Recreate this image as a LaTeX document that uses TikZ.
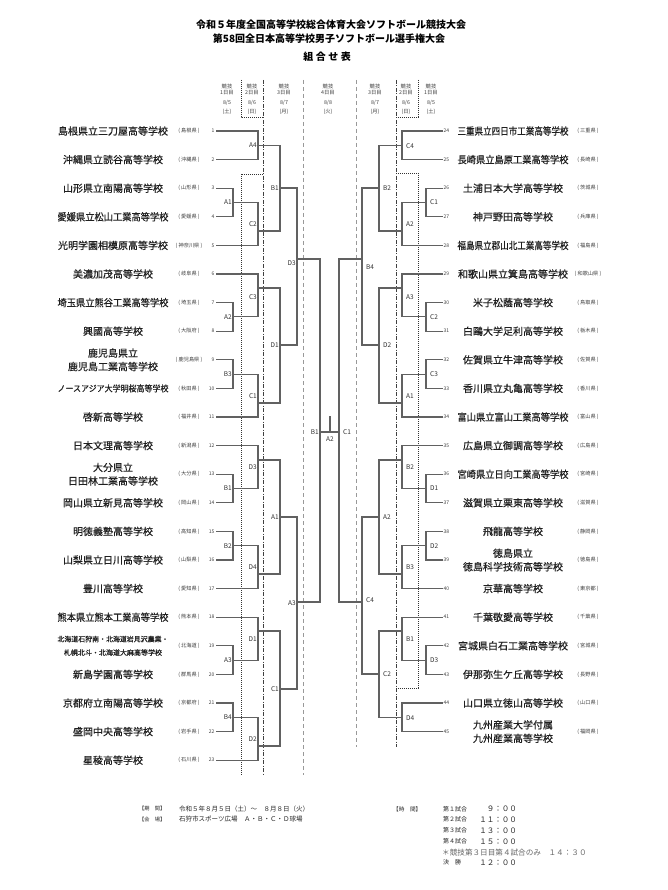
\documentclass[tikz,border=0pt]{standalone}
\usepackage{fontspec}
\setmainfont{Noto Sans CJK JP}
\newfontfamily\tmfont[FakeBold=0.5]{Noto Sans CJK JP}
\usepackage{graphicx}
\newsavebox\fitbox
\newcommand\fitto[2]{\sbox\fitbox{#2}\ifdim\wd\fitbox>#1\relax\resizebox{#1}{\height}{\usebox\fitbox}\else\usebox\fitbox\fi}
\newcommand\F[1]{\fitto{111pt}{#1}}
\tikzset{
 br/.style={draw=black!62,line width=1.1pt,line cap=rect},
 tm/.style={inner sep=0pt,font=\tmfont\fontsize{10}{13.5}\selectfont,text=black!88,align=center},
 pf/.style={inner sep=0pt,font=\fontsize{5.2}{6}\selectfont,text=black!75},
 num/.style={inner sep=0pt,font=\fontsize{5}{6}\selectfont,text=black!75},
 lab/.style={inner sep=0pt,font=\fontsize{6.5}{7}\selectfont,text=black!80},
 hd/.style={inner sep=0pt,font=\fontsize{5.3}{6}\selectfont,text=black!75},
 info/.style={inner sep=0pt,font=\fontsize{6.5}{8}\selectfont,text=black!85,anchor=west},
 dotln/.style={draw=black!80,line width=0.8pt,dash pattern=on 1pt off 1pt},
 dashdotln/.style={draw=black!75,line width=0.8pt,dash pattern=on 4pt off 1.5pt on 1pt off 1.5pt},
 dashln/.style={draw=black!40,line width=0.8pt,dash pattern=on 4pt off 3pt},
}
% left team: num, y, name, pref, xend
\newcommand\Lteam[5]{%
 \node[tm] (ln#1) at (113,#2) {#3};
 \node[pf] (lp#1) at (189,#2) {\fitto{30pt}{( #4 )}};
 \node[num,anchor=east] (lnum#1) at (214.5,#2) {#1};
 \draw[br] ([xshift=2pt]lnum#1.east) -- (#5,#2);
}
\newcommand\Rteam[5]{%
 \node[tm] (rn#1) at (513,#2) {#3};
 \node[pf] (rp#1) at (588,#2) {\fitto{30pt}{( #4 )}};
 \node[num,anchor=west] (rnum#1) at (443.5,#2) {#1};
 \draw[br] ([xshift=-1.5pt]rnum#1.west) -- (#5,#2);
}
% match: name, x, y1, y2, yout, xnext, label, ylabel
\newcommand\Lm[8]{%
 \draw[br] (#2,#3) -- (#2,#4);
 \draw[br] (#2,#5) -- (#6,#5);
 \node[lab,anchor=east] (#1) at (#2-1,#8) {#7};
}
\newcommand\Rm[8]{%
 \draw[br] (#2,#3) -- (#2,#4);
 \draw[br] (#2,#5) -- (#6,#5);
 \node[lab,anchor=west] (#1) at (#2+4,#8) {#7};
}
\newcommand\hcol[5]{%
 \node[hd] (#1a) at (#2,86) {競技};
 \node[hd] (#1b) at (#2,93) {#3};
 \node[hd] (#1c) at (#2,103) {#4};
 \node[hd] (#1d) at (#2,112) {#5};
}
\begin{document}
\begin{tikzpicture}[x=1pt,y=-1pt]
\fill[white] (0,0) rectangle (668,890);
\useasboundingbox (0,0) rectangle (668,890);
% title
\node[inner sep=0pt,font=\fontsize{10}{12}\selectfont\bfseries] (t1) at (331,25) {令和５年度全国高等学校総合体育大会ソフトボール競技大会};
\node[inner sep=0pt,font=\fontsize{10}{12}\selectfont\bfseries] (t2) at (329,39) {第58回全日本高等学校男子ソフトボール選手権大会};
\node[inner sep=0pt,font=\fontsize{10}{12}\selectfont\bfseries] (t3) at (327,57) {組\hspace{2.5pt}合\hspace{2.5pt}せ\hspace{2.5pt}表};
% header
\hcol{hL1}{227}{1日目}{8/5}{(土)}
\hcol{hL2}{252}{2日目}{8/6}{(日)}
\hcol{hL3}{284}{3日目}{8/7}{(月)}
\hcol{hC}{328}{4日目}{8/8}{(火)}
\hcol{hR3}{375}{3日目}{8/7}{(月)}
\hcol{hR2}{406}{2日目}{8/6}{(日)}
\hcol{hR1}{431}{1日目}{8/5}{(土)}
% day separators
\draw[dotln] (241,80) -- (241,117) -- (263,117);
\draw[dotln] (263,174) -- (241,174) -- (241,775);
\draw[dashdotln] (263,80) -- (263,775);
\draw[dashln] (303,80) -- (303,775);
\draw[dashln] (356,80) -- (356,747);
\draw[dashdotln] (396,80) -- (396,747);
\draw[dotln] (418,80) -- (418,117) -- (396,117);
\draw[dotln] (396,173) -- (418,173) -- (418,688) -- (396,688);
% left teams
\Lteam{1}{131.0}{\F{島根県立三刀屋高等学校}}{島根県}{258}
\Lteam{2}{159.6}{\F{沖縄県立読谷高等学校}}{沖縄県}{258}
\Lteam{3}{188.2}{\F{山形県立南陽高等学校}}{山形県}{233}
\Lteam{4}{216.8}{\F{愛媛県立松山工業高等学校}}{愛媛県}{233}
\Lteam{5}{245.4}{\F{光明学園相模原高等学校}}{神奈川県}{258}
\Lteam{6}{274.0}{\F{美濃加茂高等学校}}{岐阜県}{258}
\Lteam{7}{302.6}{\F{埼玉県立熊谷工業高等学校}}{埼玉県}{233}
\Lteam{8}{331.2}{\F{興國高等学校}}{大阪府}{233}
\Lteam{9}{359.8}{\F{鹿児島県立}\\\F{鹿児島工業高等学校}}{鹿児島県}{233}
\Lteam{10}{388.4}{\fontsize{8.5}{10}\selectfont\F{ノースアジア大学明桜高等学校}}{秋田県}{233}
\Lteam{11}{417.0}{\F{啓新高等学校}}{福井県}{258}
\Lteam{12}{445.6}{\F{日本文理高等学校}}{新潟県}{258}
\Lteam{13}{474.2}{\F{大分県立}\\\F{日田林工業高等学校}}{大分県}{233}
\Lteam{14}{502.8}{\F{岡山県立新見高等学校}}{岡山県}{233}
\Lteam{15}{531.4}{\F{明徳義塾高等学校}}{高知県}{233}
\Lteam{16}{560.0}{\F{山梨県立日川高等学校}}{山梨県}{233}
\Lteam{17}{588.6}{\F{豊川高等学校}}{愛知県}{258}
\Lteam{18}{617.2}{\F{熊本県立熊本工業高等学校}}{熊本県}{258}
\Lteam{19}{645.8}{\fontsize{7}{8.5}\selectfont\F{北海道石狩南・北海道岩見沢農業・}\\\fontsize{7}{8.5}\selectfont\F{札幌北斗・北海道大麻高等学校}}{北海道}{233}
\Lteam{20}{674.4}{\F{新島学園高等学校}}{群馬県}{233}
\Lteam{21}{703.0}{\F{京都府立南陽高等学校}}{京都府}{233}
\Lteam{22}{731.6}{\F{盛岡中央高等学校}}{岩手県}{233}
\Lteam{23}{760.2}{\F{星稜高等学校}}{石川県}{258}
% right teams
\Rteam{24}{131.0}{\F{三重県立四日市工業高等学校}}{三重県}{402}
\Rteam{25}{159.6}{\F{長崎県立島原工業高等学校}}{長崎県}{402}
\Rteam{26}{188.2}{\F{土浦日本大学高等学校}}{茨城県}{426}
\Rteam{27}{216.8}{\F{神戸野田高等学校}}{兵庫県}{426}
\Rteam{28}{245.4}{\F{福島県立郡山北工業高等学校}}{福島県}{402}
\Rteam{29}{274.0}{\F{和歌山県立箕島高等学校}}{和歌山県}{402}
\Rteam{30}{302.6}{\F{米子松蔭高等学校}}{鳥取県}{426}
\Rteam{31}{331.2}{\F{白鷗大学足利高等学校}}{栃木県}{426}
\Rteam{32}{359.8}{\F{佐賀県立牛津高等学校}}{佐賀県}{426}
\Rteam{33}{388.4}{\F{香川県立丸亀高等学校}}{香川県}{426}
\Rteam{34}{417.0}{\F{富山県立富山工業高等学校}}{富山県}{402}
\Rteam{35}{445.6}{\F{広島県立御調高等学校}}{広島県}{402}
\Rteam{36}{474.2}{\F{宮崎県立日向工業高等学校}}{宮崎県}{426}
\Rteam{37}{502.8}{\F{滋賀県立栗東高等学校}}{滋賀県}{426}
\Rteam{38}{531.4}{\F{飛龍高等学校}}{静岡県}{426}
\Rteam{39}{560.0}{\F{徳島県立}\\\F{徳島科学技術高等学校}}{徳島県}{426}
\Rteam{40}{588.6}{\F{京華高等学校}}{東京都}{402}
\Rteam{41}{617.2}{\F{千葉敬愛高等学校}}{千葉県}{402}
\Rteam{42}{645.8}{\F{宮城県白石工業高等学校}}{宮城県}{426}
\Rteam{43}{674.4}{\F{伊那弥生ケ丘高等学校}}{長野県}{426}
\Rteam{44}{703.0}{\F{山口県立徳山高等学校}}{山口県}{402}
\Rteam{45}{731.6}{\F{九州産業大学付属}\\\F{九州産業高等学校}}{福岡県}{402}
% left bracket
\Lm{lA4}{258}{131.0}{159.6}{145.3}{280}{A4}{145.3}
\Lm{lA1}{233}{188.2}{216.8}{202.5}{258}{A1}{202.5}
\Lm{lC2}{258}{202.5}{245.4}{231}{280}{C2}{224}
\Lm{lB1}{280}{145.3}{231}{188}{297}{B1}{188}
\Lm{lA2}{233}{302.6}{331.2}{316.9}{258}{A2}{316.9}
\Lm{lC3}{258}{274.0}{316.9}{288}{280}{C3}{297}
\Lm{lB3}{233}{359.8}{388.4}{374.1}{258}{B3}{374.1}
\Lm{lC1}{258}{374.1}{417.0}{403}{280}{C1}{396}
\Lm{lD1}{280}{288}{403}{345}{297}{D1}{345}
\Lm{lD3}{297}{188}{345}{259}{320}{D3}{263}
\Lm{lB1b}{233}{474.2}{502.8}{488.5}{258}{B1}{488.5}
\Lm{lD3b}{258}{445.6}{488.5}{460}{280}{D3}{467}
\Lm{lB2}{233}{531.4}{560.0}{545.7}{258}{B2}{545.7}
\Lm{lD4}{258}{545.7}{588.6}{574}{280}{D4}{567}
\Lm{lA1b}{280}{460}{574}{517}{297}{A1}{517}
\Lm{lA3}{233}{645.8}{674.4}{660.1}{258}{A3}{660.1}
\Lm{lD1b}{258}{617.2}{660.1}{631}{280}{D1}{639}
\Lm{lB4}{233}{703.0}{731.6}{717.3}{258}{B4}{717.3}
\Lm{lD2}{258}{717.3}{760.2}{746}{280}{D2}{739}
\Lm{lC1b}{280}{631}{746}{689}{297}{C1}{689}
\Lm{lA3b}{297}{517}{689}{602}{320}{A3}{603}
\Lm{lB1c}{320}{259}{602}{432}{339}{B1}{432}
% right bracket
\Rm{rC4}{402}{131.0}{159.6}{145.3}{379}{C4}{146}
\Rm{rC1}{426}{188.2}{216.8}{202.5}{402}{C1}{202.5}
\Rm{rA2}{402}{202.5}{245.4}{231}{379}{A2}{224}
\Rm{rB2}{379}{145.3}{231}{188}{362}{B2}{188}
\Rm{rC2}{426}{302.6}{331.2}{316.9}{402}{C2}{316.9}
\Rm{rA3}{402}{274.0}{316.9}{288}{379}{A3}{297}
\Rm{rC3}{426}{359.8}{388.4}{374.1}{402}{C3}{374.1}
\Rm{rA1}{402}{374.1}{417.0}{403}{379}{A1}{396}
\Rm{rD2}{379}{288}{403}{345}{362}{D2}{345}
\Rm{rB4}{362}{188}{345}{259}{339}{B4}{267}
\Rm{rD1}{426}{474.2}{502.8}{488.5}{402}{D1}{488.5}
\Rm{rB2b}{402}{445.6}{488.5}{460}{379}{B2}{467}
\Rm{rD2b}{426}{531.4}{560.0}{545.7}{402}{D2}{545.7}
\Rm{rB3}{402}{545.7}{588.6}{574}{379}{B3}{567}
\Rm{rA2b}{379}{460}{574}{517}{362}{A2}{517}
\Rm{rD3}{426}{645.8}{674.4}{660.1}{402}{D3}{660.1}
\Rm{rB1}{402}{617.2}{660.1}{631}{379}{B1}{639}
\Rm{rD4}{402}{703.0}{731.6}{717.3}{379}{D4}{718}
\Rm{rC2b}{379}{631}{717.3}{674}{362}{C2}{674}
\Rm{rC4b}{362}{517}{674}{602}{339}{C4}{600}
\Rm{rC1c}{339}{259}{602}{432}{339}{C1}{432}
% final
\coordinate (fin) at (330,432);
\coordinate (fintop) at (330,417);
\draw[br] (fin) -- (fintop);
\node[lab] (fA2) at (330,439.5) {A2};
% bottom info
\node[info,font=\fontsize{5.2}{6}\selectfont] (i1) at (139,809) {【期　間】};
\node[info] (i2) at (179,809) {令和５年８月５日（土）～　８月８日（火）};
\node[info,font=\fontsize{5.2}{6}\selectfont] (i3) at (139,819.5) {【会　場】};
\node[info] (i4) at (179,819.5) {石狩市スポーツ広場　Ａ・Ｂ・Ｃ・Ｄ球場};
\node[info,font=\fontsize{5.6}{6}\selectfont] (i5) at (393,809) {【時　間】};
\node[info,font=\fontsize{6}{7}\selectfont] (g1) at (443,809) {第１試合};
\node[info,font=\fontsize{6}{7}\selectfont] (g2) at (443,819.5) {第２試合};
\node[info,font=\fontsize{6}{7}\selectfont] (g3) at (443,830.5) {第３試合};
\node[info,font=\fontsize{6}{7}\selectfont] (g4) at (443,841.5) {第４試合};
\node[info,font=\fontsize{6}{7}\selectfont] (g6) at (443,862.5) {決　勝};
\node[info,anchor=east,font=\fontsize{7.5}{8}\selectfont] (tm1) at (517,809) {９：００};
\node[info,anchor=east,font=\fontsize{7.5}{8}\selectfont] (tm2) at (517,819.5) {１１：００};
\node[info,anchor=east,font=\fontsize{7.5}{8}\selectfont] (tm3) at (517,830.5) {１３：００};
\node[info,anchor=east,font=\fontsize{7.5}{8}\selectfont] (tm4) at (517,841.5) {１５：００};
\node[info,anchor=east,font=\fontsize{7.5}{8}\selectfont] (tm6) at (517,862.5) {１２：００};
\node[info,font=\fontsize{7.6}{8}\selectfont,text=black!60] (g5) at (442,852.5) {＊競技第３日目第４試合のみ　１４：３０};
\end{tikzpicture}
\end{document}
